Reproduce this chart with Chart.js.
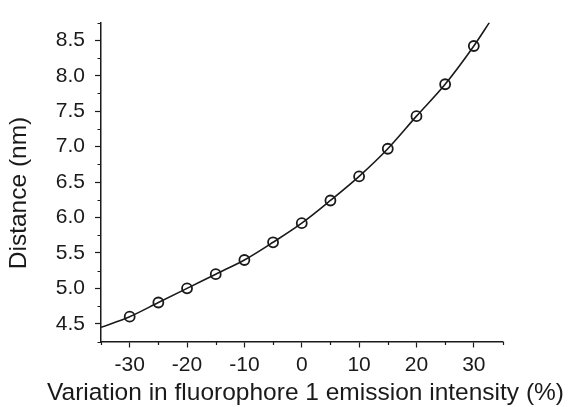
<!DOCTYPE html>
<html>
<head>
<meta charset="utf-8">
<script src="https://cdn.jsdelivr.net/npm/chart.js@4/dist/chart.umd.min.js"></script>
<style>
  html, body { margin: 0; padding: 0; background: #ffffff; }
  #wrap { width: 568px; height: 407px; position: relative; }
</style>
</head>
<body>
<div id="wrap"><canvas id="c" width="568" height="407"></canvas></div>
<script>
// Measured points (open circles)
const intensityVariation = [-30, -25, -20, -15, -10, -5, 0, 5, 10, 15, 20, 25, 30];
const distanceNm = [4.60, 4.80, 5.00, 5.20, 5.40, 5.65, 5.92, 6.24, 6.58, 6.97, 7.43, 7.88, 8.42];

// Fitted curve
const fitX = [-35, -30, -25, -20, -15, -10, -5, 0, 5, 10, 15, 20, 25, 30, 32.7];
const fitY = [4.45, 4.60, 4.80, 5.00, 5.20, 5.40, 5.65, 5.92, 6.24, 6.58, 6.97, 7.43, 7.88, 8.42, 8.75];

// Axis ticks
const xTickValues = [-30, -20, -10, 0, 10, 20, 30];
const xMinorTicks = [-35, -25, -15, -5, 5, 15, 25, 35];
const yTickValues = [4.5, 5.0, 5.5, 6.0, 6.5, 7.0, 7.5, 8.0, 8.5];
const yMinorTicks = [4.25, 4.75, 5.25, 5.75, 6.25, 6.75, 7.25, 7.75, 8.25, 8.75];

const xTitle = 'Variation in fluorophore 1 emission intensity (%)';
const yTitle = 'Distance (nm)';

const FONT = '"Liberation Sans", Arial, sans-serif';
const INK = '#1a1a1a';

const extras = {
  id: 'extras',
  afterDraw(chart) {
    const ctx = chart.ctx;
    const xs = chart.scales.x, ys = chart.scales.y;
    const ca = chart.chartArea;
    ctx.save();
    ctx.strokeStyle = INK;
    ctx.lineWidth = 1.2;
    ctx.beginPath();
    xMinorTicks.forEach(v => {
      const px = Math.round(xs.getPixelForValue(v)) + 0.5;
      ctx.moveTo(px, ca.bottom);
      ctx.lineTo(px, ca.bottom + 3.5);
    });
    yMinorTicks.forEach(v => {
      const py = Math.round(ys.getPixelForValue(v)) + 0.5;
      ctx.moveTo(ca.left, py);
      ctx.lineTo(ca.left - 3.5, py);
    });
    ctx.stroke();

    ctx.fillStyle = INK;
    ctx.font = '24.5px ' + FONT;
    ctx.textAlign = 'center';
    ctx.textBaseline = 'middle';
    ctx.fillText(xTitle, 305.5, 393);
    ctx.translate(19, 193);
    ctx.rotate(-Math.PI / 2);
    ctx.fillText(yTitle, 0, 0);
    ctx.restore();
  }
};

new Chart(document.getElementById('c'), {
  type: 'scatter',
  data: {
    datasets: [
      {
        label: 'fit',
        data: fitX.map((x, i) => ({ x: x, y: fitY[i] })),
        showLine: true,
        borderColor: INK,
        borderWidth: 1.6,
        pointRadius: 0,
        cubicInterpolationMode: 'monotone',
        fill: false,
        order: 2
      },
      {
        label: 'data',
        data: intensityVariation.map((x, i) => ({ x: x, y: distanceNm[i] })),
        showLine: false,
        pointStyle: 'circle',
        pointRadius: 5,
        pointBorderWidth: 1.8,
        pointBorderColor: INK,
        pointBackgroundColor: 'rgba(0,0,0,0)',
        order: 1
      }
    ]
  },
  options: {
    responsive: false,
    animation: false,
    events: [],
    layout: { padding: { top: 13, right: 65.5, left: 0, bottom: 0 } },
    plugins: { legend: { display: false }, tooltip: { enabled: false } },
    scales: {
      x: {
        type: 'linear',
        min: -35,
        max: 35,
        afterBuildTicks: s => { s.ticks = xTickValues.map(v => ({ value: v })); },
        afterFit: s => { s.height = 65.5; },
        ticks: {
          font: { family: FONT, size: 21 },
          color: INK,
          padding: 5,
          maxRotation: 0,
          autoSkip: false,
          callback: v => String(v)
        },
        grid: { drawOnChartArea: false, drawTicks: true, tickLength: 6, tickColor: INK, tickWidth: 1.2 },
        border: { display: true, color: INK, width: 1.5 },
        title: { display: false }
      },
      y: {
        type: 'linear',
        min: 4.25,
        max: 8.75,
        afterBuildTicks: s => { s.ticks = yTickValues.map(v => ({ value: v })); },
        afterFit: s => { s.width = 101; },
        ticks: {
          font: { family: FONT, size: 21 },
          color: INK,
          padding: 10,
          autoSkip: false,
          callback: v => Number(v).toFixed(1)
        },
        grid: { drawOnChartArea: false, drawTicks: true, tickLength: 6, tickColor: INK, tickWidth: 1.2 },
        border: { display: true, color: INK, width: 1.5 },
        title: { display: false }
      }
    }
  },
  plugins: [extras]
});
</script>
</body>
</html>
